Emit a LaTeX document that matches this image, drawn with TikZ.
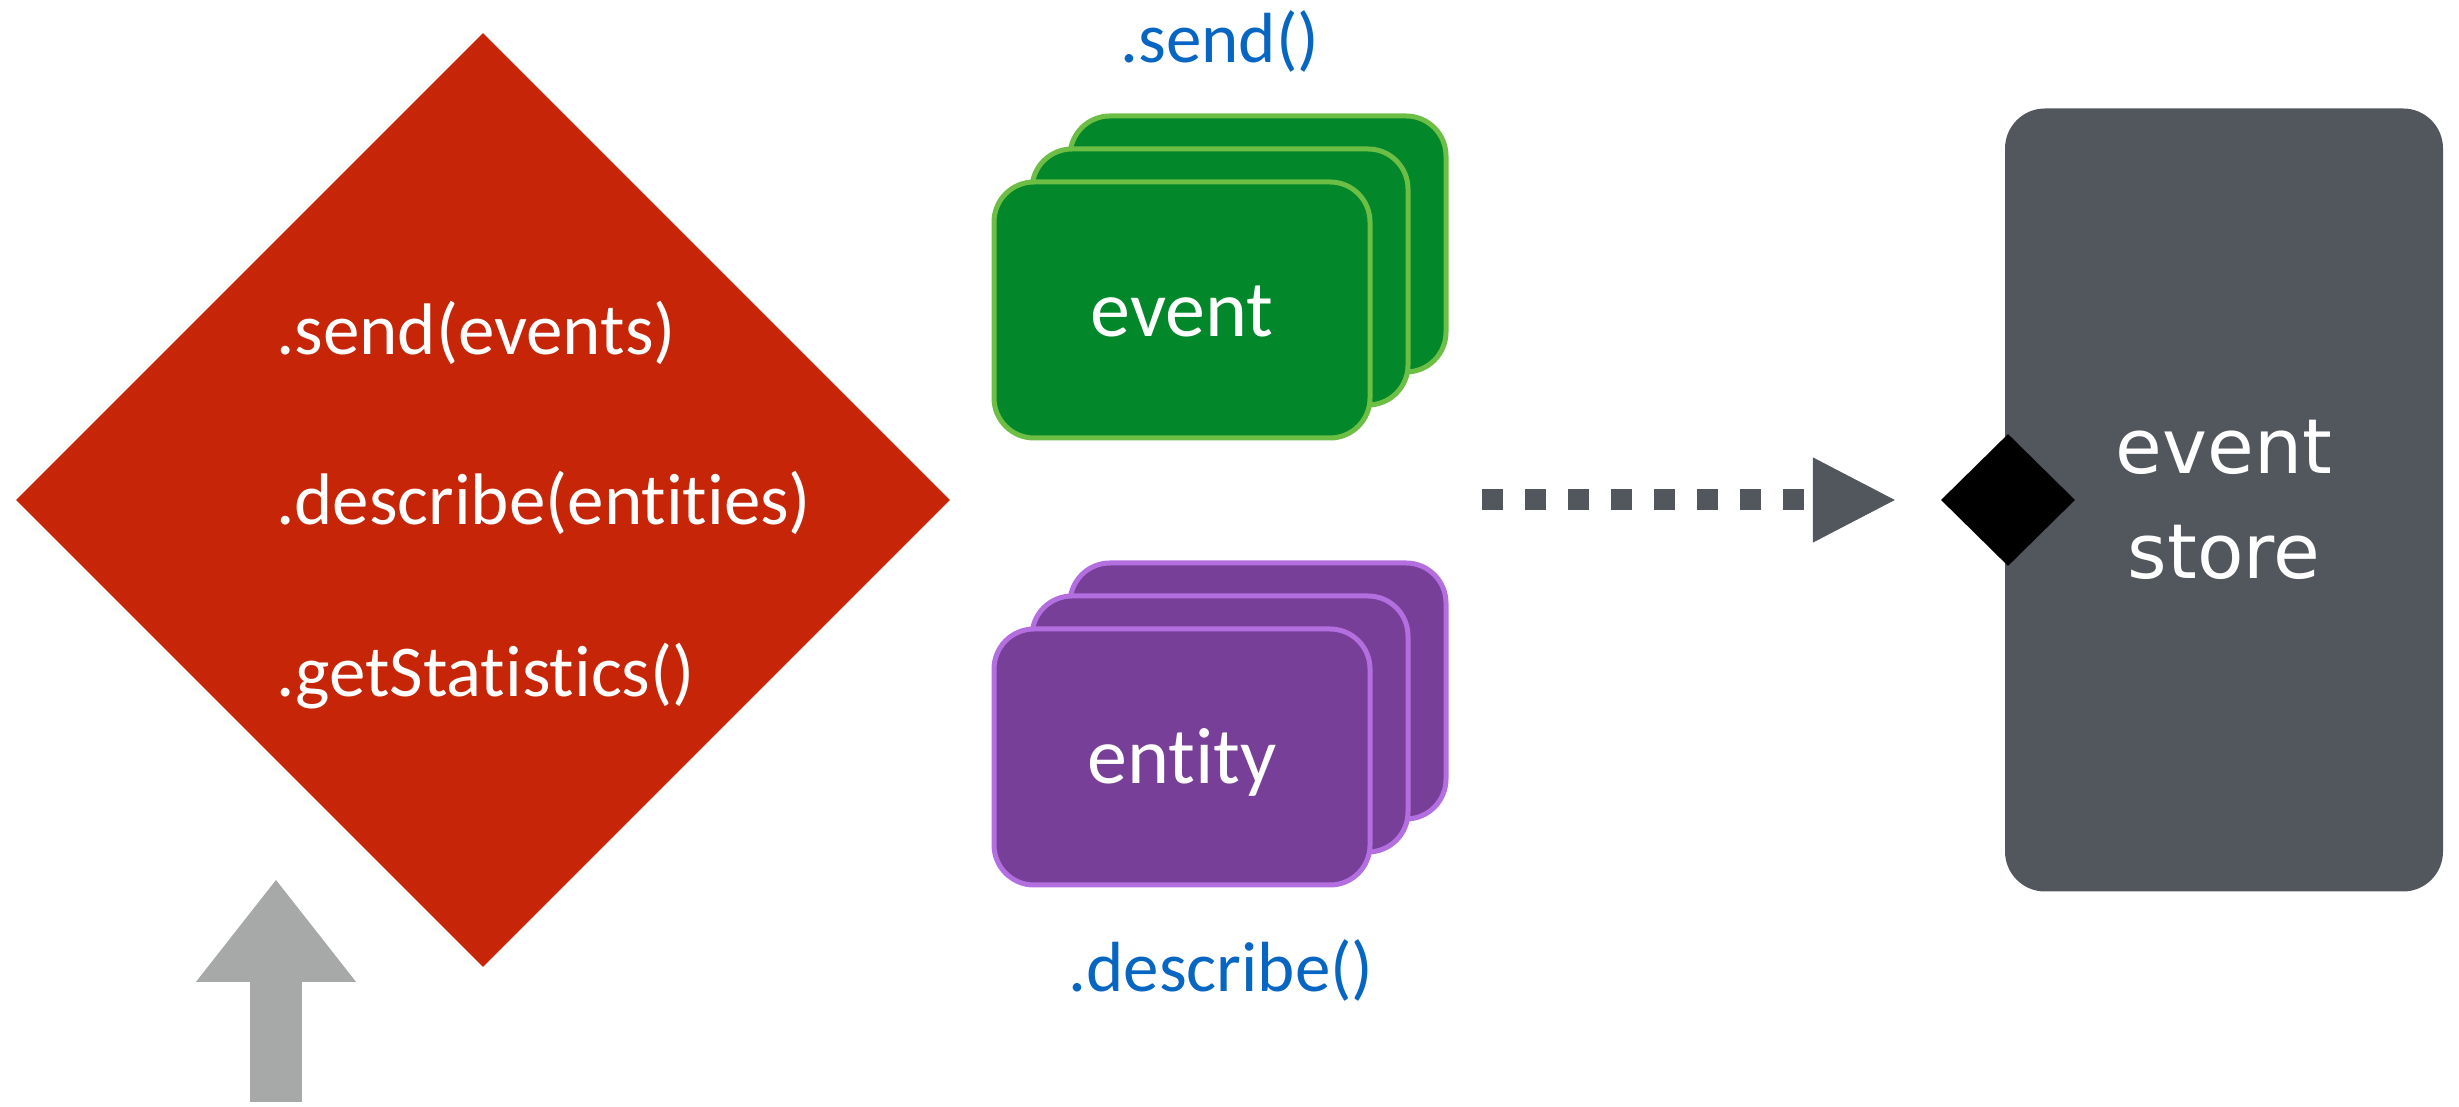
\documentclass[tikz,border=0pt]{standalone}
\usepackage{fontspec}
\setmainfont{Carlito}[Ligatures=NoCommon]
\newfontfamily\storefont{DejaVu Sans}
\usepackage{xcolor}
\usetikzlibrary{arrows.meta,positioning,shapes.geometric}

\definecolor{apired}{HTML}{C62507}
\definecolor{evfill}{HTML}{02872A}
\definecolor{evline}{HTML}{6DBE45}
\definecolor{enfill}{HTML}{783F99}
\definecolor{enline}{HTML}{B36EE0}
\definecolor{callblue}{HTML}{0766C2}
\definecolor{storegray}{HTML}{52575E}
\definecolor{callgray}{HTML}{A6A9A8}

\tikzset{
	apibox/.style={diamond, aspect=1, fill=apired, minimum width=934pt, minimum height=934pt, inner sep=0pt},
	apitext/.style={text=white, font=\fontsize{73}{80}\selectfont, anchor=base west, inner sep=0pt},
	card/.style={rounded corners=40pt, line width=5pt, minimum width=376pt, minimum height=256pt, inner sep=0pt, text=white, text height=54pt, text depth=0pt, font=\fontsize{80}{90}\selectfont},
	eventcard/.style={card, fill=evfill, draw=evline},
	entitycard/.style={card, fill=enfill, draw=enline},
	calltext/.style={text=callblue, font=\fontsize{71}{80}\selectfont, anchor=base, inner sep=0pt},
	storebox/.style={fill=storegray, rounded corners=40pt, minimum width=438pt, minimum height=783pt, text=white, align=center, font=\storefont\fontsize{76}{105}\selectfont},
	port/.style={diamond, fill=black, minimum width=134pt, minimum height=132pt, inner sep=0pt},
	flow/.style={draw=storegray, line width=21pt, dash pattern=on 21pt off 22pt, -{Triangle[length=82pt,width=85pt,line width=1pt]}},
	callarrow/.style={draw=callgray, line width=52pt, -{Triangle[length=102pt,width=160pt,line width=1pt]}}
}

\begin{document}
\begin{tikzpicture}[x=1pt,y=1pt]
	\useasboundingbox (0,0) rectangle (2459,1107);
	% api diamond
	\node[apibox] (api) at (483,607) {};
	\node[apitext] (sendtxt) at (276,752) {.send(events)};
	\node[apitext] (describetxt) at (276,582) {.describe(entities)};
	\node[apitext] (statstxt) at (276,410) {.getStatistics()};
	% caller
	\coordinate (callfoot) at (276,5);
	\coordinate (calltip) at (276,227);
	\draw[callarrow] (callfoot) -- (calltip);
	% cards
	\foreach \k in {2,1}
	\node[eventcard] at ({1182+\k*38},{797+\k*33}) {};
	\node[eventcard] (event) at (1182,797) {event};
	\foreach \k in {2,1}
	\node[entitycard] at ({1182+\k*38},{350+\k*33}) {};
	\node[entitycard] (entity) at (1182,350) {entity};
	\node[calltext] (sendcall) at (1220,1044) {.send()};
	\node[calltext] (describecall) at (1221,115) {.describe()};
	% store
	\node[storebox] (store) at (2224,607) {event\\store};
	\node[port] (port) at (2008,607) {};
	\coordinate (flowstart) at (1482,607);
	\draw[flow, shorten >=46pt] (flowstart) -- (port);
\end{tikzpicture}
\end{document}
